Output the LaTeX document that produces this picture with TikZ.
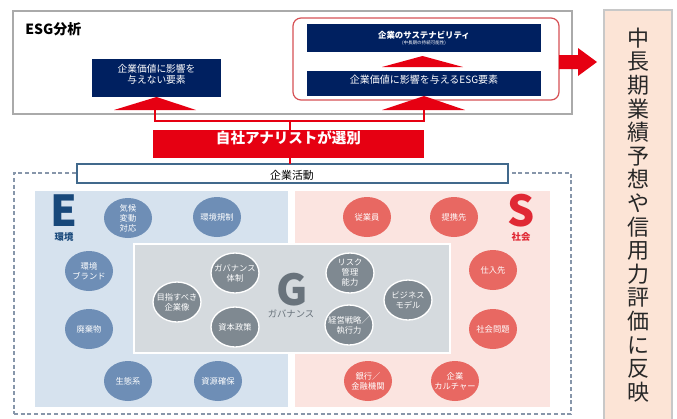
\documentclass[tikz,border=0pt]{standalone}
\usepackage{fontspec}
\setmainfont{Noto Sans CJK JP}
\usetikzlibrary{shapes.geometric,fit}
\definecolor{navy}{RGB}{0,32,96}
\definecolor{esgred}{RGB}{230,0,18}
\definecolor{rboxred}{RGB}{214,80,84}
\definecolor{outergray}{RGB}{170,170,170}
\definecolor{ebg}{RGB}{214,226,238}
\definecolor{sbg}{RGB}{251,228,224}
\definecolor{gbg}{RGB}{213,218,222}
\definecolor{ecol}{RGB}{110,142,182}
\definecolor{scol}{RGB}{232,104,98}
\definecolor{gcol}{RGB}{127,137,145}
\definecolor{eletter}{RGB}{24,72,122}
\definecolor{sletter}{RGB}{224,40,52}
\definecolor{gletter}{RGB}{105,115,124}
\definecolor{dashcol}{RGB}{135,150,170}
\definecolor{actborder}{RGB}{65,105,140}
\definecolor{peach}{RGB}{252,228,214}
\definecolor{peachborder}{RGB}{200,200,200}
\definecolor{vtext}{RGB}{40,40,40}
\begin{document}
\begin{tikzpicture}[x=0.75pt,y=-0.75pt,
  area/.style={fit={#1}, inner sep=0pt, outer sep=0pt},
  navybox/.style={fill=navy, text=white, align=center},
  redline/.style={draw=esgred, line width=1.5pt},
  bubble/.style={ellipse, minimum width=36pt, minimum height=30pt, inner sep=0pt},
  blbl/.style={text=white, align=center, font=\fontsize{6.2}{7.5}\selectfont},
  ebub/.style={bubble, fill=ecol, label={[blbl]center:#1}},
  sbub/.style={bubble, fill=scol, label={[blbl]center:#1}},
  gbub/.style={bubble, fill=gcol, draw=white, line width=1pt, label={[blbl]center:#1}},
  bigletter/.style={font=\fontsize{32}{32}\selectfont\bfseries, inner sep=0pt},
  smallcap/.style={font=\fontsize{7}{8}\selectfont\bfseries, inner sep=0pt},
]
\useasboundingbox (0,0) rectangle (677,418);

% ESG analysis box
\node[area={(13,11) (572,114)}, draw=outergray, line width=0.8pt] (esg) {};
\node[anchor=west, inner sep=0pt, font=\fontsize{10.5}{12}\selectfont\bfseries] (esgt) at (25,29) {ESG分析};
\node[area={(92,59) (221,97)}, navybox, font=\fontsize{7.3}{8.3}\selectfont] (nb1) {企業価値に影響を\\与えない要素};
\node[area={(293,18) (559,100)}, draw=rboxred, line width=0.9pt, rounded corners=6pt] (rb) {};
\node[area={(307,24) (541,52)}, navybox] (nb2) {};
\node[font=\fontsize{6.3}{7}\selectfont\bfseries, text=white, inner sep=0pt] (nb2t) at (424,35) {企業のサステナビリティ};
\node[font=\fontsize{3.4}{4}\selectfont, text=white, inner sep=0pt] (nb2s) at (424,43) {(中長期の持続可能性)};
\node[area={(307,71) (541,96)}, navybox, font=\fontsize{7.5}{9}\selectfont] (nb3) {企業価値に影響を与えるESG要素};

% triangles
\fill[esgred] (114,110) -- (196,110) -- (nb1.south) -- cycle;
\fill[esgred] (382,67) -- (463,67) -- (422.5,56) -- cycle;
\fill[esgred] (382,110) -- (465,110) -- (nb3.south) -- cycle;

% banner
\node[area={(153,130) (424,158)}, fill=esgred, text=white, font=\fontsize{10.9}{12}\selectfont\bfseries] (banner) {自社アナリストが選別};
\coordinate (lt) at (155,110);
\coordinate (rt) at (424,110);
\coordinate (brk) at (290,121);
\draw[redline] (lt) |- (brk) -| (rt);
\draw[redline] (banner.north -| brk) -- (brk);

% right arrow and box
\fill[esgred] (559,55) -- (578,55) -- (578,48) -- (597,62) -- (578,76) -- (578,69) -- (559,69) -- cycle;
\node[area={(604,10) (672,424)}, fill=peach, draw=peachborder, line width=0.8pt] (rbox) {};
\node[font=\fontsize{16.5}{17.7}\selectfont, text=vtext, align=center, inner sep=0pt] (vt) at (638,215) {中\\長\\期\\業\\績\\予\\想\\や\\信\\用\\力\\評\\価\\に\\反\\映};

% activity area
\node[area={(14,173) (571,414)}, draw=dashcol, dash pattern=on 3pt off 2pt, line width=0.9pt] (dash) {};
\node[area={(35,191) (288,407)}, fill=ebg] (ebg) {};
\node[area={(295,191) (550,407)}, fill=sbg] (sbg) {};
\node[area={(134,244) (450,353)}, fill=gbg, draw=white, line width=1.5pt] (gbg) {};
\node[area={(77,164) (508,183)}, fill=white, draw=actborder, line width=0.8pt] (act) {};
\node[inner sep=0pt, font=\fontsize{8.2}{10}\selectfont] (actt) at (292,175) {企業活動};
\draw[esgred, line width=0.9pt] (banner.south -| brk) -- (act.north -| brk);

% letters
\node[bigletter, text=eletter] (E) at (64,211) {E};
\node[smallcap, text=eletter] (Et) at (64,237) {環境};
\node[bigletter, text=sletter] (S) at (521,211) {S};
\node[smallcap, text=sletter] (St) at (521,237) {社会};
\node[bigletter, text=gletter] (G) at (292,290) {G};
\node[smallcap, text=gletter, font=\fontsize{7}{8}\selectfont] (Gt) at (291,314) {ガバナンス};

% E bubbles
\node[ebub={気候\\変動\\対応}] (e1) at (128,218) {};
\node[ebub={環境規制}] (e2) at (217,217) {};
\node[ebub={環境\\ブランド}] (e3) at (89,271) {};
\node[ebub={廃棄物}] (e4) at (89,329) {};
\node[ebub={生態系}] (e5) at (128,381) {};
\node[ebub={資源確保}] (e6) at (218,381) {};
% S bubbles
\node[sbub={従業員}] (s1) at (367,217) {};
\node[sbub={提携先}] (s2) at (454,217) {};
\node[sbub={仕入先}] (s3) at (493,270) {};
\node[sbub={社会問題}] (s4) at (493,329) {};
\node[sbub={銀行／\\金融機関}] (s5) at (368,381) {};
\node[sbub={企業\\カルチャー}] (s6) at (455,381) {};
% G bubbles
\node[gbub={目指すべき\\企業像}] (g1) at (177,302) {};
\node[gbub={ガバナンス\\体制}] (g2) at (235,273) {};
\node[gbub={資本政策}] (g3) at (235,327) {};
\node[gbub={リスク\\管理\\能力}] (g4) at (350,273) {};
\node[gbub={ビジネス\\モデル}] (g5) at (408,300) {};
\node[gbub={経営戦略／\\執行力}] (g6) at (349,325) {};
\end{tikzpicture}
\end{document}
